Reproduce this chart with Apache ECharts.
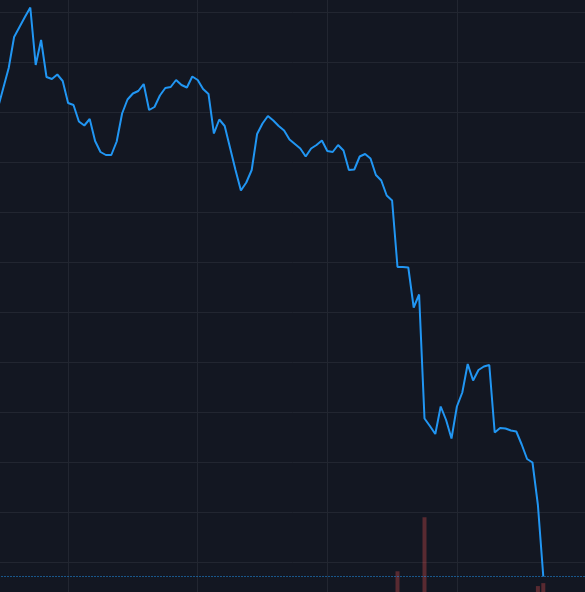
<!DOCTYPE html>
<html>
<head>
<meta charset="utf-8">
<script src="https://cdn.jsdelivr.net/npm/echarts@6/dist/echarts.min.js"></script>
<style>
  html, body { margin: 0; padding: 0; background: #131722; }
  #chart { width: 585px; height: 592px; }
</style>
</head>
<body>
<div id="chart"></div>
<script>
// Price series (one value per session, index 0..101)
var prices = [
  10.08, 10.48, 10.88, 11.50, 11.70, 11.90, 12.09, 10.94, 11.44, 10.70,
  10.66, 10.75, 10.62, 10.18, 10.14, 9.81, 9.73, 9.86, 9.42, 9.20,
  9.14, 9.14, 9.41, 9.97, 10.25, 10.37, 10.42, 10.56, 10.04, 10.10,
  10.33, 10.48, 10.50, 10.64, 10.54, 10.49, 10.71, 10.64, 10.46, 10.36,
  9.57, 9.85, 9.72, 9.28, 8.84, 8.43, 8.59, 8.84, 9.56, 9.77,
  9.92, 9.83, 9.72, 9.63, 9.45, 9.36, 9.27, 9.11, 9.27, 9.34,
  9.43, 9.22, 9.20, 9.34, 9.23, 8.84, 8.85, 9.11, 9.16, 9.07,
  8.74, 8.63, 8.33, 8.23, 6.90, 6.90, 6.89, 6.09, 6.35, 3.87,
  3.72, 3.56, 4.11, 3.84, 3.47, 4.11, 4.39, 4.96, 4.63, 4.84,
  4.91, 4.94, 3.59, 3.68, 3.67, 3.63, 3.61, 3.35, 3.06, 2.99,
  2.14, 0.71
];
// Volume bars (session index -> volume)
var volumeIndex = [74, 79, 100, 101];
var volumeValues = [28, 101, 8, 12];

var lastPrice = prices[prices.length - 1];

var lineData = prices.map(function (v, i) { return [i, v]; });
var volData = volumeIndex.map(function (idx, j) { return [idx, volumeValues[j]]; });

var chart = echarts.init(document.getElementById('chart'), null, { renderer: 'canvas' });
var hiddenAxis = {
  axisLine: { show: false },
  axisTick: { show: false },
  axisLabel: { show: false }
};
var gridColor = '#222631';

chart.setOption({
  backgroundColor: '#131722',
  animation: false,
  grid: [
    { left: -61.5, width: 648, top: -38, height: 650, outerBoundsMode: 'none', containLabel: false },
    { left: -61.5, width: 648, top: 0, height: 592, outerBoundsMode: 'none', containLabel: false }
  ],
  xAxis: [
    Object.assign({ type: 'value', gridIndex: 0, min: -11, max: 109, interval: 24,
      splitLine: { show: true, lineStyle: { color: gridColor, width: 1 } } }, hiddenAxis),
    Object.assign({ type: 'value', gridIndex: 1, min: -11, max: 109,
      splitLine: { show: false } }, hiddenAxis)
  ],
  yAxis: [
    Object.assign({ type: 'value', gridIndex: 0, min: 0, max: 13, interval: 1,
      splitLine: { show: true, lineStyle: { color: gridColor, width: 1 } } }, hiddenAxis),
    Object.assign({ type: 'value', gridIndex: 1, min: 0, max: 800,
      splitLine: { show: false } }, hiddenAxis)
  ],
  series: [
    {
      type: 'bar',
      xAxisIndex: 1,
      yAxisIndex: 1,
      data: volData,
      barWidth: 4,
      itemStyle: { color: 'rgba(239,83,80,0.32)' },
      z: 1,
      silent: true
    },
    {
      type: 'line',
      xAxisIndex: 0,
      yAxisIndex: 0,
      data: lineData,
      showSymbol: false,
      symbol: 'none',
      lineStyle: { color: '#2196F3', width: 2 },
      z: 3,
      silent: true,
      markLine: {
        silent: true,
        symbol: ['none', 'none'],
        label: { show: false },
        lineStyle: { color: '#2196F3', width: 1, type: [1, 2] },
        data: [{ yAxis: lastPrice }]
      }
    }
  ]
});
</script>
</body>
</html>
